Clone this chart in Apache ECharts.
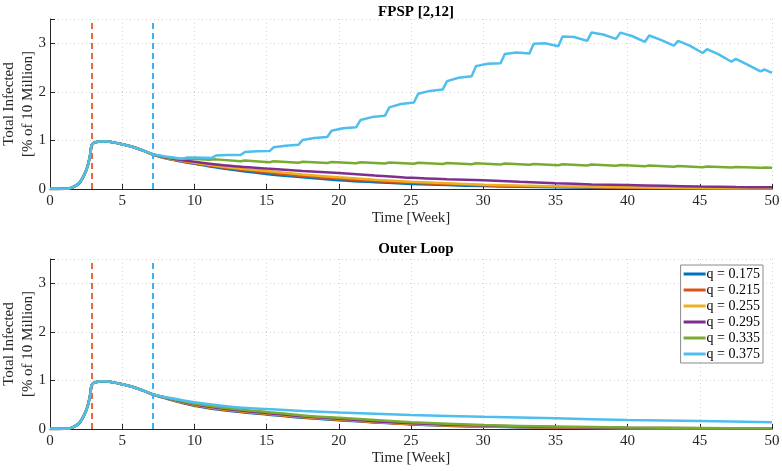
<!DOCTYPE html>
<html style="height: 100%">
<head>
  <meta charset="utf-8">
  <script type="text/javascript" src="https://cdn.jsdelivr.net/npm/echarts@6/dist/echarts.min.js"></script>
</head>
<body style="height: 100%; margin: 0; background: #fff">
  <div id="container" style="width: 782px; height: 471px"></div>
  <script type="text/javascript">
    // q values and colours (MATLAB default order)
    var qNames = ['q = 0.175', 'q = 0.215', 'q = 0.255', 'q = 0.295', 'q = 0.335', 'q = 0.375'];
    var qColors = ['#0072BD', '#D95319', '#EDB120', '#7E2F8E', '#77AC30', '#4DBEEE'];

    // vertical dashed markers [week]
    var phaseWeeks = [2.86, 7.14];
    var phaseColors = ['#E65A2B', '#2EA6EF'];

    // shared start of every run, [week, % infected]
    var prefix = [[0, 0], [0.5, 0.001], [1, 0.004], [1.3, 0.012], [1.6, 0.04], [1.9, 0.09], [2.1, 0.15],
      [2.3, 0.25], [2.5, 0.38], [2.66, 0.53], [2.8, 0.73], [2.86, 0.88], [2.95, 0.93], [3.1, 0.96],
      [3.4, 0.98], [3.7, 0.985], [4, 0.98], [4.5, 0.955], [5, 0.92], [5.5, 0.885], [6, 0.84],
      [6.5, 0.785], [7.14, 0.71]];

    // FPSP [2,12]
    var fpsp175 = [[8, 0.63], [9, 0.57], [10, 0.52], [12, 0.42], [15, 0.31], [17.5, 0.24], [20, 0.18], [22.5, 0.14],
      [25, 0.105], [27.5, 0.08], [30, 0.06], [32.5, 0.045], [35, 0.035], [40, 0.02], [45, 0.01], [50, 0.006]];
    var fpsp215 = [[8, 0.64], [9, 0.58], [10, 0.53], [12, 0.44], [15, 0.34], [17.5, 0.27], [20, 0.21], [22.5, 0.165],
      [25, 0.13], [27.5, 0.10], [30, 0.075], [32.5, 0.055], [35, 0.045], [40, 0.025], [45, 0.015], [50, 0.01]];
    var fpsp255 = [[8, 0.64], [9, 0.59], [10, 0.54], [12, 0.46], [15, 0.37], [17.5, 0.30], [20, 0.24], [22.5, 0.19],
      [25, 0.15], [27.5, 0.12], [30, 0.09], [32.5, 0.07], [35, 0.055], [40, 0.035], [45, 0.02], [50, 0.015]];
    var fpsp295 = [[8, 0.65], [9, 0.60], [10, 0.56], [12, 0.49], [15, 0.42], [17.5, 0.37], [20, 0.33], [22.5, 0.28],
      [25, 0.23], [27.5, 0.20], [30, 0.18], [32.5, 0.15], [35, 0.12], [37.5, 0.095], [40, 0.08], [42.5, 0.065],
      [45, 0.05], [47.5, 0.04], [50, 0.035]];
    var fpsp335 = [[8, 0.66], [9, 0.62], [9.5, 0.63], [11, 0.60], [11.5, 0.61], [13.2, 0.57], [13.5, 0.585],
      [15.2, 0.55], [15.5, 0.57], [17.2, 0.54], [17.5, 0.56], [19.2, 0.535], [19.5, 0.555], [21.2, 0.53],
      [21.5, 0.55], [23.2, 0.525], [23.5, 0.545], [25.2, 0.52], [25.5, 0.54], [27.2, 0.515], [27.5, 0.535],
      [29.2, 0.51], [29.5, 0.53], [31.2, 0.505], [31.5, 0.525], [33.2, 0.50], [33.5, 0.515], [35.2, 0.49],
      [35.5, 0.51], [37.2, 0.485], [37.5, 0.505], [39.2, 0.48], [39.5, 0.495], [41.2, 0.47], [41.5, 0.485],
      [43.2, 0.46], [43.5, 0.475], [45.2, 0.45], [45.5, 0.465], [47.2, 0.445], [47.5, 0.455], [49.2, 0.435],
      [49.5, 0.445], [50, 0.44]];
    var fpsp375 = [[8, 0.67], [9, 0.63], [9.3, 0.63], [9.5, 0.65], [10, 0.65], [11.2, 0.64], [11.5, 0.69],
      [12.3, 0.70], [13.2, 0.70], [13.5, 0.76], [14.3, 0.775], [15.2, 0.78], [15.5, 0.86], [16.3, 0.89],
      [17.2, 0.91], [17.5, 1.01], [18.3, 1.05], [19.2, 1.07], [19.5, 1.20], [20.3, 1.25], [21.2, 1.27],
      [21.5, 1.42], [22.3, 1.48], [23.2, 1.51], [23.5, 1.68], [24.3, 1.75], [25.2, 1.78], [25.5, 1.96],
      [26.3, 2.02], [27.2, 2.05], [27.5, 2.22], [28.3, 2.29], [29.2, 2.32], [29.5, 2.53], [30.3, 2.58],
      [31.2, 2.59], [31.5, 2.78], [32.3, 2.81], [33.2, 2.79], [33.5, 2.99], [34.3, 3.00], [35.2, 2.94],
      [35.5, 3.14], [36.3, 3.13], [37.2, 3.05], [37.5, 3.22], [38.3, 3.18], [39.2, 3.09], [39.5, 3.22],
      [40.3, 3.15], [41.2, 3.03], [41.5, 3.16], [42.3, 3.07], [43.2, 2.95], [43.5, 3.05], [44.3, 2.95],
      [45.2, 2.80], [45.5, 2.88], [46.3, 2.77], [47.2, 2.62], [47.5, 2.68], [48.3, 2.56], [49.2, 2.42],
      [49.5, 2.46], [50, 2.39]];

    // Outer Loop
    var outer175 = [[8, 0.63], [10, 0.48], [12.5, 0.37], [15, 0.30], [17.5, 0.23], [20, 0.18], [25, 0.095],
      [30, 0.05], [35, 0.028], [40, 0.015], [45, 0.009], [50, 0.005]];
    var outer215 = [[8, 0.635], [10, 0.49], [12.5, 0.38], [15, 0.31], [17.5, 0.24], [20, 0.19], [25, 0.10],
      [30, 0.055], [35, 0.03], [40, 0.018], [45, 0.01], [50, 0.006]];
    var outer255 = [[8, 0.64], [10, 0.50], [12.5, 0.39], [15, 0.32], [17.5, 0.25], [20, 0.20], [25, 0.11],
      [30, 0.06], [35, 0.035], [40, 0.02], [45, 0.012], [50, 0.008]];
    var outer295 = [[8, 0.645], [10, 0.51], [12.5, 0.40], [15, 0.33], [17.5, 0.26], [20, 0.21], [25, 0.12],
      [30, 0.07], [35, 0.04], [40, 0.025], [45, 0.015], [50, 0.01]];
    var outer335 = [[8, 0.65], [10, 0.52], [12.5, 0.42], [15, 0.35], [17.5, 0.28], [20, 0.23], [25, 0.14],
      [30, 0.08], [35, 0.05], [40, 0.03], [45, 0.02], [50, 0.015]];
    var outer375 = [[8, 0.655], [10, 0.55], [12.5, 0.46], [15, 0.41], [17.5, 0.37], [20, 0.34], [25, 0.29],
      [30, 0.25], [35, 0.22], [40, 0.185], [45, 0.165], [50, 0.14]];

    var fpspTails = [fpsp175, fpsp215, fpsp255, fpsp295, fpsp335, fpsp375];
    var outerTails = [outer175, outer215, outer255, outer295, outer335, outer375];

    var serif = 'Liberation Serif';
    var ink = '#262626';

    function xAxisFor(idx) {
      return {
        type: 'value', gridIndex: idx, min: 0, max: 50, interval: 5,
        name: 'Time [Week]', nameLocation: 'middle', nameGap: 22, nameMoveOverlap: false,
        nameTextStyle: { fontFamily: serif, fontSize: 15, color: ink },
        axisLine: { lineStyle: { color: ink, width: 1 } },
        axisTick: { inside: true, length: 5, lineStyle: { color: ink } },
        axisLabel: { fontFamily: serif, fontSize: 15, color: ink, margin: 5 },
        splitLine: { show: true, lineStyle: { color: '#d4d4d4', type: [1, 3] } }
      };
    }

    function yAxisFor(idx) {
      return {
        type: 'value', gridIndex: idx, min: 0, max: 3.5, interval: 1,
        name: 'Total Infected\n[% of 10 Million]', nameLocation: 'middle', nameGap: 12,
        nameMoveOverlap: false, nameRotate: 90,
        nameTextStyle: { fontFamily: serif, fontSize: 15, color: ink, lineHeight: 19 },
        axisLine: { show: true, lineStyle: { color: ink, width: 1 } },
        axisTick: { show: true, inside: true, length: 5, lineStyle: { color: ink } },
        axisLabel: {
          fontFamily: serif, fontSize: 15, color: ink, margin: 4,
          formatter: function(v) { return v % 1 === 0 ? String(v) : ''; }
        },
        splitLine: { show: true, lineStyle: { color: '#d4d4d4', type: [1, 3] } }
      };
    }

    var series = [];
    [fpspTails, outerTails].forEach(function(tails, g) {
      tails.forEach(function(tail, i) {
        var sawtooth = (g === 0 && i >= 4);
        series.push({
          name: qNames[i], type: 'line', xAxisIndex: g, yAxisIndex: g,
          data: prefix.concat(tail), showSymbol: false, symbol: 'none',
          smooth: sawtooth ? false : 0.3,
          lineStyle: { color: qColors[i], width: 2.5 },
          itemStyle: { color: qColors[i] },
          silent: true, z: 2 + i
        });
      });
      // dashed phase markers
      series.push({
        type: 'line', xAxisIndex: g, yAxisIndex: g, data: [], silent: true,
        markLine: {
          symbol: 'none', silent: true, label: { show: false },
          data: phaseWeeks.map(function(w, k) {
            return { xAxis: w, lineStyle: { color: phaseColors[k], type: [6, 4], width: 1.8 } };
          })
        }
      });
    });

    var chart = echarts.init(document.getElementById('container'), null, { renderer: 'canvas' });
    chart.setOption({
      backgroundColor: '#fff',
      animation: false,
      title: [
        { text: 'FPSP [2,12]', left: 411, top: 0, textAlign: 'center',
          textStyle: { fontFamily: serif, fontSize: 15, fontWeight: 'bold', color: '#000' } },
        { text: 'Outer Loop', left: 411, top: 237, textAlign: 'center',
          textStyle: { fontFamily: serif, fontSize: 15, fontWeight: 'bold', color: '#000' } }
      ],
      grid: [
        { left: 50, right: 10, top: 19, height: 170, outerBoundsMode: 'none', containLabel: false },
        { left: 50, right: 10, top: 259, height: 170, outerBoundsMode: 'none', containLabel: false }
      ],
      xAxis: [xAxisFor(0), xAxisFor(1)],
      yAxis: [yAxisFor(0), yAxisFor(1)],
      legend: {
        data: qNames, orient: 'vertical', right: 19, top: 265,
        icon: 'rect', itemWidth: 22, itemHeight: 3, itemGap: 2,
        padding: [2, 3, 2, 3],
        backgroundColor: '#fff', borderColor: '#8a8a8a', borderWidth: 1, borderRadius: 0,
        textStyle: { fontFamily: serif, fontSize: 14, color: '#000', padding: [0, 0, 0, -4], lineHeight: 14 }
      },
      series: series
    });
  </script>
</body>
</html>
